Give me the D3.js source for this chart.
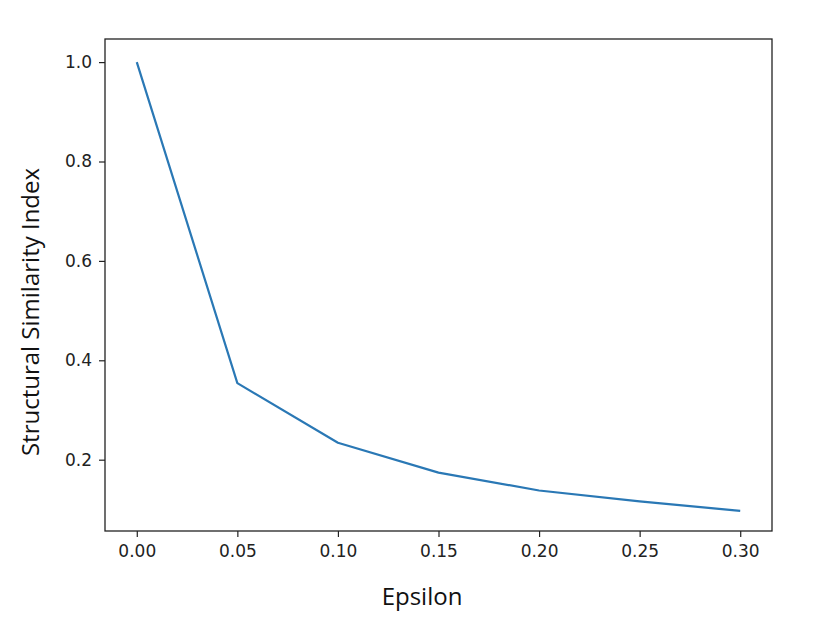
<!DOCTYPE html>
<html><head><meta charset="utf-8">
<script src="https://cdn.jsdelivr.net/npm/d3@7"></script>
<style>body{margin:0;background:#fff}</style>
</head><body><svg id="c" width="830" height="622"></svg>
<script>
const epsilon = [0.00, 0.05, 0.10, 0.15, 0.20, 0.25, 0.30];
const ssim = [1.0, 0.354, 0.234, 0.174, 0.138, 0.116, 0.097];
const xTicks = [0.00, 0.05, 0.10, 0.15, 0.20, 0.25, 0.30];
const yTicks = [0.2, 0.4, 0.6, 0.8, 1.0];

const svg = d3.select("#c");
const L = 105, R = 772, T = 39, B = 531;
const x = d3.scaleLinear().domain([-0.0158, 0.3158]).range([L, R]);
const y = d3.scaleLinear().domain([0.0565, 1.0465]).range([B, T]);

const gx = svg.append("g").attr("transform", `translate(0,${B})`)
  .call(d3.axisBottom(x).tickValues(xTicks).tickFormat(d3.format(".2f")).tickSizeOuter(0).tickSize(6).tickPadding(8));
const gy = svg.append("g").attr("transform", `translate(${L},0)`)
  .call(d3.axisLeft(y).tickValues(yTicks).tickFormat(d3.format(".1f")).tickSizeOuter(0).tickSize(6).tickPadding(7));
[gx, gy].forEach(g => {
  g.select(".domain").remove();
  g.selectAll("line").attr("stroke", "#222").attr("stroke-width", 1.2);
  g.selectAll("text").attr("font-family", "DejaVu Sans").attr("font-size", 17).attr("fill", "#222");
});

svg.append("rect").attr("x", L).attr("y", T).attr("width", R - L).attr("height", B - T)
  .attr("fill", "none").attr("stroke", "#222").attr("stroke-width", 1.3);

const line = d3.line().x((d, i) => x(epsilon[i])).y(d => y(d));
svg.append("path").datum(ssim).attr("d", line).attr("fill", "none")
  .attr("stroke", "#2a78b5").attr("stroke-width", 2.2).attr("stroke-linejoin", "round");

svg.append("text").attr("x", 422).attr("y", 605).attr("text-anchor", "middle")
  .attr("font-family", "Open Sans").attr("font-size", 24).attr("fill", "#111").text("Epsilon");
svg.append("text").attr("transform", "translate(39,312) rotate(-90)").attr("text-anchor", "middle")
  .attr("font-family", "Open Sans").attr("font-size", 24).attr("fill", "#111").text("Structural Similarity Index");
</script></body></html>
